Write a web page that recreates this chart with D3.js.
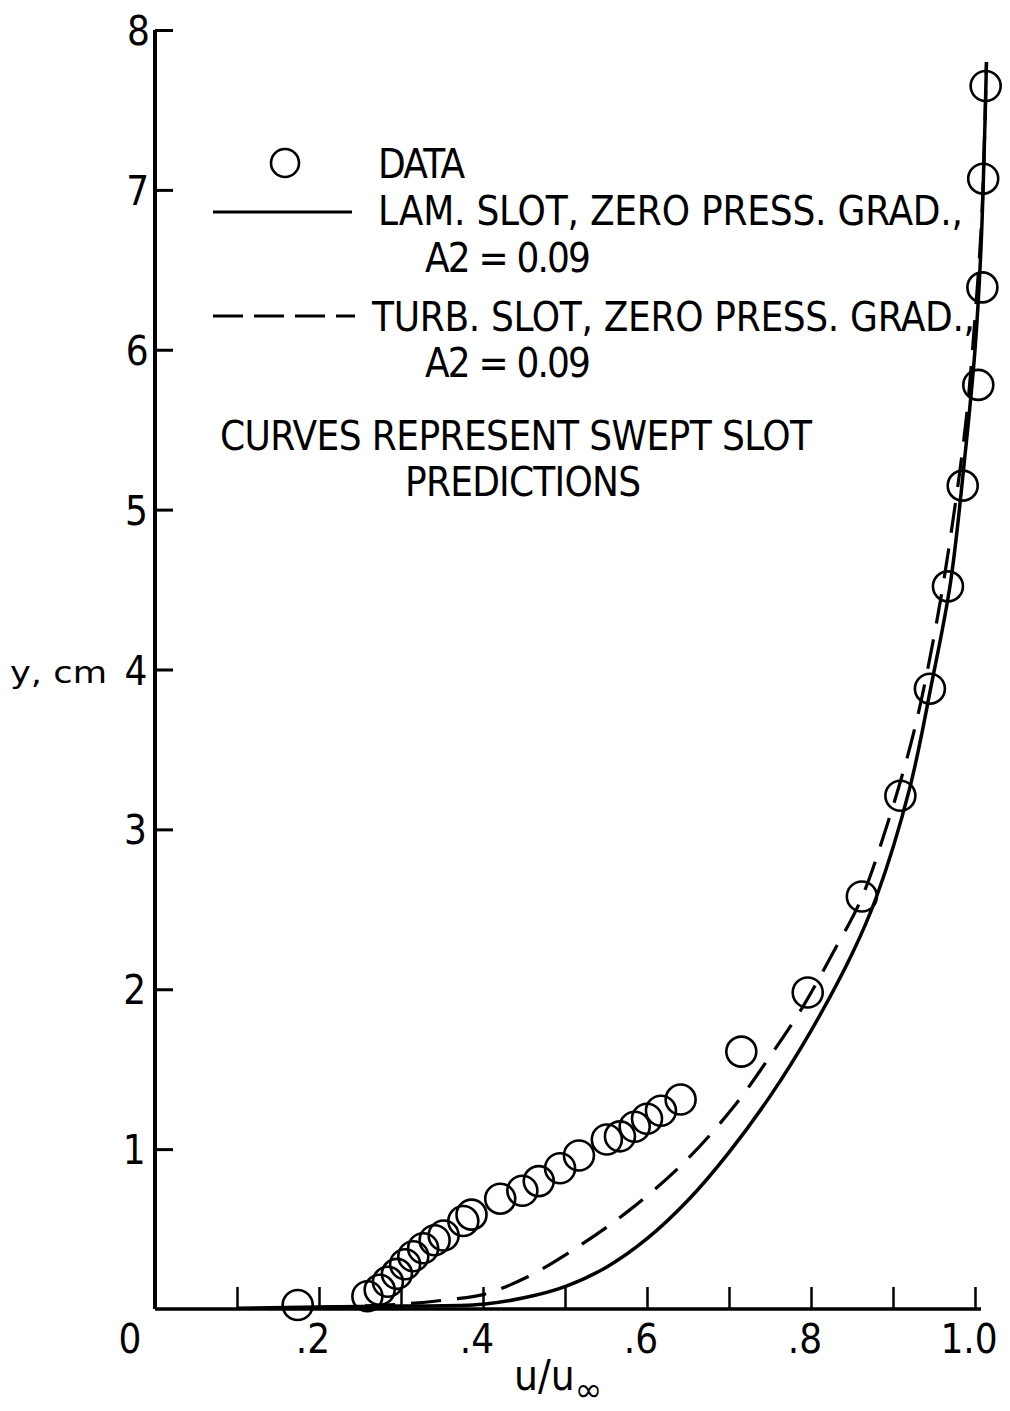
<!DOCTYPE html>
<html>
<head>
<meta charset="utf-8" />
<title>Velocity profile</title>
<style>
    html, body { margin: 0; padding: 0; background: #fff; }
    text { font-family: "Liberation Sans Narrow", "DejaVu Sans Condensed", sans-serif; fill: #000; }
</style>
</head>
<body>
<svg width="1010" height="1411"></svg>
<script src="https://d3js.org/d3.v7.min.js"></script>
<script>
    // measured points, u/uinf and y (cm)
    var dataU = [0.174, 0.259, 0.274, 0.284, 0.295, 0.305, 0.315, 0.327, 0.341, 0.352, 0.376, 0.386,
                 0.421, 0.448, 0.468, 0.494, 0.517, 0.551, 0.567, 0.585, 0.600, 0.617, 0.641,
                 0.715, 0.796, 0.862, 0.909, 0.945, 0.967, 0.985, 1.004, 1.009, 1.010, 1.013];
    var dataY = [0.025, 0.08, 0.12, 0.17, 0.22, 0.28, 0.33, 0.38, 0.43, 0.46, 0.55, 0.59,
                 0.69, 0.74, 0.80, 0.88, 0.96, 1.06, 1.08, 1.14, 1.19, 1.24, 1.31,
                 1.61, 1.98, 2.58, 3.21, 3.88, 4.52, 5.15, 5.78, 6.39, 7.07, 7.65];

    // laminar slot prediction (solid)
    var lamU = [0.10, 0.20, 0.30, 0.40, 0.45, 0.50, 0.55, 0.60, 0.65, 0.70, 0.75, 0.80, 0.85, 0.88, 0.92, 0.947, 0.970, 0.988, 1.000, 1.007, 1.011, 1.014];
    var lamY = [0.005, 0.012, 0.018, 0.03, 0.07, 0.14, 0.26, 0.44, 0.68, 0.98, 1.33, 1.74, 2.22, 2.58, 3.25, 3.91, 4.54, 5.35, 6.00, 6.60, 7.20, 7.80];

    // turbulent slot prediction (dashed)
    var turbU = [0.20, 0.30, 0.36, 0.40, 0.454, 0.522, 0.579, 0.644, 0.705, 0.750, 0.790, 0.827, 0.860, 0.888, 0.925, 0.953, 0.975, 0.990, 1.000, 1.008, 1.012, 1.014];
    var turbY = [0.01, 0.03, 0.06, 0.09, 0.20, 0.41, 0.62, 0.91, 1.26, 1.58, 1.89, 2.23, 2.55, 2.95, 3.60, 4.29, 5.00, 5.60, 6.20, 6.80, 7.40, 7.80];

    var xTicks = [0.1, 0.2, 0.3, 0.4, 0.5, 0.6, 0.7, 0.8, 0.9, 1.0];
    var xLabels = [[0, "0"], [0.2, ".2"], [0.4, ".4"], [0.6, ".6"], [0.8, ".8"], [1.0, "1.0"]];
    var yTicks = [1, 2, 3, 4, 5, 6, 7, 8];

    var svg = d3.select("svg");

    var x = d3.scaleLinear().domain([0, 1]).range([155, 975]);
    var y = d3.scaleLinear().domain([0, 8]).range([1309, 30]);

    // axes, ticks pointing inward
    var gx = svg.append("g")
        .attr("transform", "translate(0," + y(0) + ")")
        .call(d3.axisBottom(x).tickValues(xTicks).tickSize(-22).tickSizeOuter(0).tickFormat(""));
    gx.select(".domain").attr("stroke-width", 3.5).attr("d", "M" + x(0) + ",0H" + (x(1) + 6));
    gx.selectAll(".tick line").attr("stroke-width", 2.5);

    var gy = svg.append("g")
        .attr("transform", "translate(" + x(0) + ",0)")
        .call(d3.axisLeft(y).tickValues(yTicks).tickSize(-18).tickSizeOuter(0).tickFormat(""));
    gy.select(".domain").attr("stroke-width", 4).attr("d", "M0," + y(0) + "V" + y(8));
    gy.selectAll(".tick line").attr("stroke-width", 3);

    // tick labels
    svg.append("g").selectAll("text")
        .data(yTicks)
        .enter().append("text")
        .attr("x", function (d) { return x(0) - 10 + d * 0.6; })
        .attr("y", function (d) { return y(d) + 15; })
        .attr("text-anchor", "end")
        .style("font-size", "40px")
        .text(function (d) { return d; });

    svg.append("g").selectAll("text")
        .data(xLabels)
        .enter().append("text")
        .attr("x", function (d) { return d[0] === 0 ? x(0) - 25 : x(d[0]) - 6; })
        .attr("y", y(0) + 44)
        .attr("text-anchor", "middle")
        .style("font-size", "40px")
        .text(function (d) { return d[1]; });

    // axis titles
    svg.append("text").attr("x", 10).attr("y", 683)
        .attr("textLength", 97).attr("lengthAdjust", "spacingAndGlyphs")
        .style("font-family", "'DejaVu Sans', sans-serif").style("font-size", "31px")
        .text("y, cm");
    var xt = svg.append("text").attr("x", 514).attr("y", 1390).style("font-size", "42px");
    xt.append("tspan").text("u/u");
    xt.append("tspan").attr("dy", 11)
        .style("font-family", "'DejaVu Sans', sans-serif").style("font-size", "33px")
        .text("\u221e");

    // prediction curves
    var line = d3.line().curve(d3.curveCatmullRom.alpha(0.5))
        .x(function (d) { return x(d[0]); })
        .y(function (d) { return y(d[1]); });

    svg.append("path")
        .datum(d3.zip(lamU, lamY))
        .attr("fill", "none").attr("stroke", "#000").attr("stroke-width", 3.5)
        .attr("d", line);

    svg.append("path")
        .datum(d3.zip(turbU, turbY))
        .attr("fill", "none").attr("stroke", "#000").attr("stroke-width", 3.2)
        .attr("stroke-dasharray", "30,16")
        .attr("d", line);

    // data symbols
    svg.append("g").selectAll("circle")
        .data(d3.zip(dataU, dataY))
        .enter().append("circle")
        .attr("cx", function (d) { return x(d[0]); })
        .attr("cy", function (d) { return y(d[1]); })
        .attr("r", 15)
        .attr("fill", "none")
        .attr("stroke", "#000")
        .attr("stroke-width", 2.6);

    // legend
    var legend = svg.append("g");
    legend.append("circle").attr("cx", 285).attr("cy", 163).attr("r", 14)
        .attr("fill", "#fff").attr("stroke", "#000").attr("stroke-width", 2.6);
    legend.append("line").attr("x1", 213).attr("x2", 352).attr("y1", 212).attr("y2", 212)
        .attr("stroke", "#000").attr("stroke-width", 3);
    legend.append("line").attr("x1", 213).attr("x2", 355).attr("y1", 316).attr("y2", 316)
        .attr("stroke", "#000").attr("stroke-width", 3).attr("stroke-dasharray", "30,11");

    var legendText = [
        ["DATA", 378, 178, 87],
        ["LAM. SLOT, ZERO PRESS. GRAD.,", 378, 225, 585],
        ["A2 = 0.09", 425, 272, 166],
        ["TURB. SLOT, ZERO PRESS. GRAD.,", 372, 331, 603],
        ["A2 = 0.09", 425, 377, 166],
        ["CURVES REPRESENT SWEPT SLOT", 220, 450, 592],
        ["PREDICTIONS", 405, 496, 236]
    ];
    legend.selectAll("text.lg")
        .data(legendText)
        .enter().append("text")
        .attr("class", "lg")
        .attr("x", function (d) { return d[1]; })
        .attr("y", function (d) { return d[2]; })
        .attr("textLength", function (d) { return d[3]; })
        .attr("lengthAdjust", "spacing")
        .style("font-size", "40px")
        .text(function (d) { return d[0]; });
</script>
</body>
</html>
